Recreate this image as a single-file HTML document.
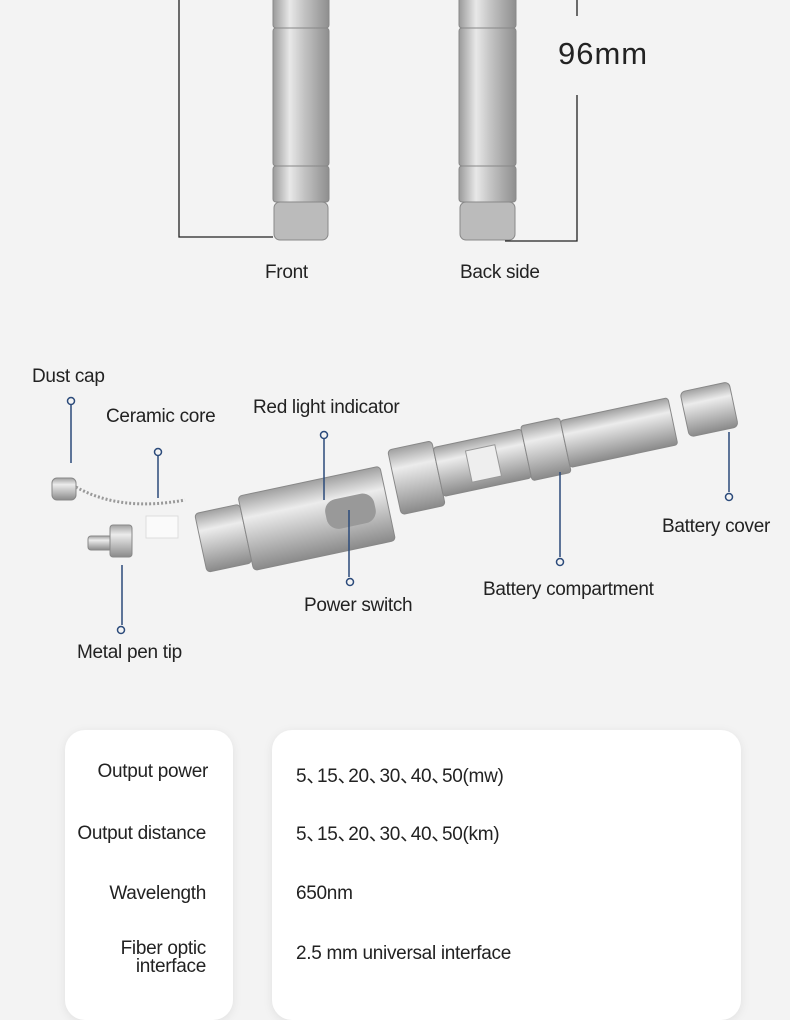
<!DOCTYPE html>
<html><head><meta charset="utf-8"><style>
body{margin:0;width:790px;height:1000px;background:#f3f3f3;position:relative;overflow:hidden;font-family:"Liberation Sans","Noto Sans CJK SC",sans-serif;color:#222}
.t{position:absolute;font-size:19px;white-space:nowrap;line-height:1;letter-spacing:-0.3px}
.card{position:absolute;background:#fff;border-radius:20px;box-shadow:0 2px 10px rgba(0,0,0,.08)}
.c{margin-right:-8px}
</style></head><body>
<svg width="790" height="1000" style="position:absolute;left:0;top:0">
<defs>
<linearGradient id="v" x1="0" x2="1" y1="0" y2="0"><stop offset="0" stop-color="#9a9a9a"/><stop offset=".3" stop-color="#e8e8e8"/><stop offset=".55" stop-color="#c4c4c4"/><stop offset="1" stop-color="#8e8e8e"/></linearGradient>
<linearGradient id="h" x1="0" x2="0" y1="0" y2="1"><stop offset="0" stop-color="#a0a0a0"/><stop offset=".3" stop-color="#ececec"/><stop offset=".6" stop-color="#c2c2c2"/><stop offset="1" stop-color="#8a8a8a"/></linearGradient>
</defs>
<g fill="url(#v)" stroke="#888" stroke-width="1">
<rect x="273" y="-5" width="56" height="33" rx="3"/><rect x="273" y="28" width="56" height="138" rx="3"/><rect x="273" y="166" width="56" height="36" rx="3"/><rect x="274" y="202" width="54" height="38" rx="6" fill="#bbb"/>
<rect x="459" y="-5" width="57" height="33" rx="3"/><rect x="459" y="28" width="57" height="138" rx="3"/><rect x="459" y="166" width="57" height="36" rx="3"/><rect x="460" y="202" width="55" height="38" rx="6" fill="#bbb"/>
</g>
<g stroke="#222" stroke-width="1.3" fill="none">
<path d="M179 0V237H273"/><path d="M577 0V16M577 95V241H505"/>
</g>
<g transform="rotate(-12 400 470)">
<g fill="url(#h)" stroke="#888">
<rect x="190" y="470" width="46" height="60" rx="4"/><rect x="236" y="462" width="145" height="76" rx="4"/>
<rect x="392" y="448" width="45" height="66" rx="4"/><rect x="437" y="455" width="90" height="50" rx="3"/><rect x="527" y="452" width="40" height="56" rx="3"/><rect x="567" y="455" width="110" height="48" rx="3"/>
<rect x="690" y="452" width="50" height="46" rx="5"/>
</g>
<rect x="468" y="465" width="30" height="32" fill="#eee" stroke="#999"/>
<rect x="318" y="485" width="50" height="30" rx="12" fill="#999"/>
</g>
<g fill="url(#h)" stroke="#888">
<rect x="52" y="478" width="24" height="22" rx="5"/>
<rect x="88" y="536" width="24" height="14" rx="3"/><rect x="110" y="525" width="22" height="32" rx="3"/>
</g>
<rect x="146" y="516" width="32" height="22" fill="#fafafa" stroke="#ddd"/>
<path d="M76 487 Q120 512 185 500" stroke="#999" stroke-width="3" fill="none" stroke-dasharray="2 2"/>
<g stroke="#2b4a7a" stroke-width="1.5" fill="none">
<path d="M71 405V463"/><circle cx="71" cy="401" r="3.5"/>
<path d="M158 456V498"/><circle cx="158" cy="452" r="3.5"/>
<path d="M324 439V500"/><circle cx="324" cy="435" r="3.5"/>
<path d="M349 510V577"/><circle cx="350" cy="582" r="3.5"/>
<path d="M560 472V557"/><circle cx="560" cy="562" r="3.5"/>
<path d="M729 432V492"/><circle cx="729" cy="497" r="3.5"/>
<path d="M122 565V625"/><circle cx="121" cy="630" r="3.5"/>
</g>
</svg>
<div class="t" style="left:558px;top:38px;font-size:31px;letter-spacing:1px">96mm</div>
<div class="t" style="left:265px;top:263px">Front</div>
<div class="t" style="left:460px;top:263px">Back side</div>
<div class="t" style="left:32px;top:367px">Dust cap</div>
<div class="t" style="left:106px;top:407px">Ceramic core</div>
<div class="t" style="left:253px;top:398px">Red light indicator</div>
<div class="t" style="left:662px;top:517px">Battery cover</div>
<div class="t" style="left:304px;top:596px">Power switch</div>
<div class="t" style="left:483px;top:580px">Battery compartment</div>
<div class="t" style="left:77px;top:643px">Metal pen tip</div>
<div class="card" style="left:65px;top:730px;width:168px;height:290px"></div>
<div class="card" style="left:272px;top:730px;width:469px;height:290px"></div>
<div class="t" style="right:582px;top:762px">Output power</div>
<div class="t" style="right:584px;top:824px">Output distance</div>
<div class="t" style="right:584px;top:884px">Wavelength</div>
<div class="t" style="right:584px;top:940px;text-align:right;line-height:18px">Fiber optic<br>interface</div>
<div class="t" style="left:296px;top:767px">5<span class="c">、</span>15<span class="c">、</span>20<span class="c">、</span>30<span class="c">、</span>40<span class="c">、</span>50(mw)</div>
<div class="t" style="left:296px;top:825px">5<span class="c">、</span>15<span class="c">、</span>20<span class="c">、</span>30<span class="c">、</span>40<span class="c">、</span>50(km)</div>
<div class="t" style="left:296px;top:884px">650nm</div>
<div class="t" style="left:296px;top:944px">2.5 mm universal interface</div>
</body></html>
